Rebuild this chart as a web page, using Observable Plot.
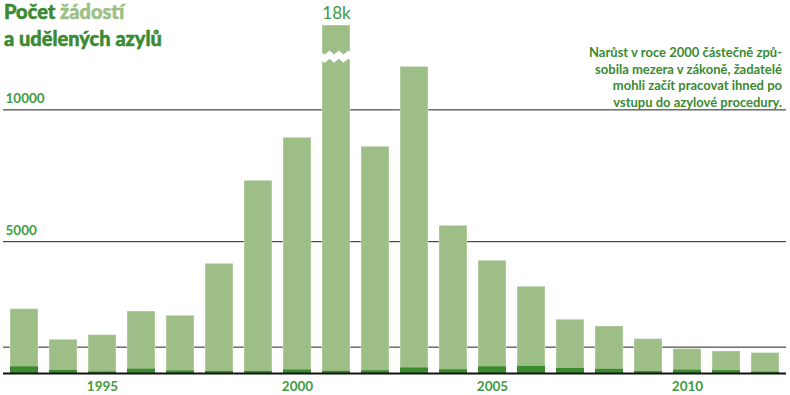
<!DOCTYPE html>
<html><head><meta charset="utf-8">
<script src="https://cdn.jsdelivr.net/npm/d3@7"></script>
<script src="https://cdn.jsdelivr.net/npm/@observablehq/plot@0.6"></script>
<style>
body{margin:0;background:#fff;font-family:Lato,"Open Sans",sans-serif;}
#wrap{position:relative;width:790px;height:395px;overflow:hidden;}
#title{position:absolute;left:4px;top:-2px;font-weight:900;font-size:20px;line-height:26.6px;color:#3b8a32;white-space:nowrap;-webkit-text-stroke:0.5px currentColor;}
#title .light{color:#9cc086;}
#note{position:absolute;right:8px;top:44px;font-weight:700;font-size:13px;line-height:16.5px;color:#3b8a32;text-align:right;white-space:nowrap;}
#chart{position:absolute;left:0;top:0;}
</style></head>
<body>
<div id="wrap">
<div id="chart"></div>
<div id="title">Počet <span class="light">žádostí</span><br>a udělených azylů</div>
<div id="note">Narůst v roce 2000 částečně způ-<br>sobila mezera v zákoně, žadatelé<br>mohli začít pracovat ihned po<br>vstupu do azylové procedury.</div>
</div>
<script>
const years = [1993,1994,1995,1996,1997,1998,1999,2000,2001,2002,2003,2004,2005,2006,2007,2008,2009,2010,2011,2012];
const applications = [2440,1280,1455,2350,2190,4160,7310,8940,18094,8600,11630,5600,4275,3290,2040,1785,1305,925,835,775];
const granted = [251,116,59,162,96,78,79,133,83,103,208,142,251,268,191,157,75,125,108,49];
const gridValues = [1000,5000,10000];
const yTickValues = [5000,10000];
const xTickValues = [1995,2000,2005,2010];
const yMax = 13200;
const breakAt = 12000;
const brokenLabel = "18k";

const data = years.map((year,i)=>({year, applications: applications[i], granted: granted[i]}));
const broken = data.filter(d => d.applications > yMax);

const light = "#9dbf87", dark = "#3a8a2e", labelGreen = "#409c40";

function breakMark(index, scales) {
  const x = scales.x, y = scales.y;
  const g = d3.create("svg:g");
  for (const d of broken) {
    const w = x.bandwidth();
    const x0 = x(d.year);
    const p = w / 3;
    const yc = y(breakAt);
    const amp = 2, half = 4.2;
    const pts = [[x0 - 1, 0]];
    for (let i = 0; i < 3; i++) {
      pts.push([x0 + p*(0.3 + i), amp]);
      pts.push([x0 + p*(0.8 + i), -amp]);
    }
    pts.push([x0 + w + 1, 0]);
    const top = pts.map(([px,o]) => [px, yc - half + o]);
    const bot = pts.slice().reverse().map(([px,o]) => [px, yc + half + o]);
    g.append("path")
      .attr("d", "M" + top.concat(bot).map(q => q.join(",")).join("L") + "Z")
      .attr("fill", "#fff");
  }
  return g.node();
}

const plot = Plot.plot({
  width: 790,
  height: 395,
  marginLeft: 3,
  marginRight: 4,
  marginTop: 25,
  marginBottom: 22,
  style: {fontFamily: "Lato, 'Open Sans', sans-serif", background: "#fff"},
  x: {type: "band", domain: years, paddingInner: 0.286, paddingOuter: 0.13, label: null},
  y: {domain: [0, yMax], label: null},
  marks: [
    Plot.ruleY(gridValues, {stroke: "#222", strokeWidth: 1}),
    Plot.barY(data, {x: "year", y: d => Math.min(d.applications, yMax), fill: light, stroke: "#fff", strokeOpacity: 0.35, strokeWidth: 1}),
    Plot.barY(data, {x: "year", y: "granted", fill: dark}),
    Plot.ruleY([0], {stroke: "#111", strokeWidth: 2}),
    breakMark,
    Plot.text(broken, {x: "year", y: () => yMax, text: () => brokenLabel, dy: -12, fill: labelGreen, fontSize: 17, fontWeight: 400}),
    Plot.axisY(yTickValues, {anchor: "left", label: null, tickSize: 0, tickPadding: 0, textAnchor: "start", dx: 2, dy: -11, fill: labelGreen, fontSize: 13.5, fontWeight: 700, tickFormat: d => String(d)}),
    Plot.axisX(xTickValues, {anchor: "bottom", label: null, tickSize: 0, tickPadding: 8, fill: labelGreen, fontSize: 13.5, fontWeight: 700, tickFormat: d => String(d)})
  ]
});
document.getElementById("chart").appendChild(plot);
</script>
</body></html>
